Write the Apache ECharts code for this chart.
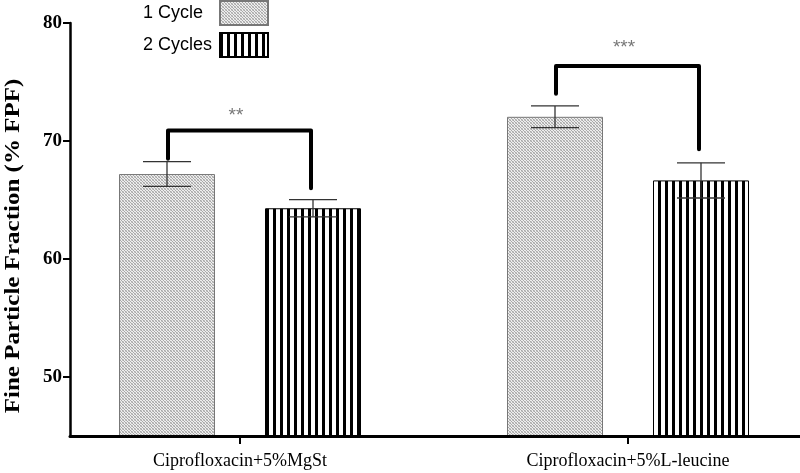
<!DOCTYPE html>
<html>
<head>
<meta charset="utf-8">
<script src="https://cdn.jsdelivr.net/npm/echarts@6/dist/echarts.min.js"></script>
<style>
  html, body { margin: 0; padding: 0; background: #fff; }
  #chart { width: 800px; height: 473px; }
</style>
</head>
<body>
<div id="chart"></div>
<script>
// ---- data ----
const categories = ['Ciprofloxacin+5%MgSt', 'Ciprofloxacin+5%L-leucine'];
const seriesNames = ['1 Cycle', '2 Cycles'];
const oneCycleMean = [67.2, 72.05];
const oneCycleSd = [1.05, 0.92];
const twoCyclesMean = [64.3, 66.66];
const twoCyclesSd = [0.73, 1.49];
const yMin = 45;
const yMax = 80;
const yTicks = [50, 60, 70, 80];
const yAxisTitle = 'Fine Particle Fraction (% FPF)';
const sigLabels = ['**', '***'];
const bracketLeftEnd = [68.5, 74.0];
const bracketTop = [70.9, 76.35];
const bracketRightEnd = [66.0, 69.3];
const sigLabelY = [72.1, 77.9];

// ---- styles ----
const BAR_W = 96;
const BAR_GAP = 50;
const HALF_OFFSET = (BAR_W + BAR_GAP) / 2;

function dotPattern() {
  const c = document.createElement('canvas');
  c.width = 3; c.height = 3;
  const ctx = c.getContext('2d');
  ctx.fillStyle = '#eeeeee'; ctx.fillRect(0, 0, 3, 3);
  ctx.fillStyle = '#a8a8a8';
  ctx.fillRect(0, 0, 1, 1); ctx.fillRect(1, 1, 1, 1); ctx.fillRect(2, 2, 1, 1);
  ctx.fillStyle = '#c8c8c8';
  ctx.fillRect(2, 0, 1, 1); ctx.fillRect(0, 2, 1, 1);
  return c;
}
function stripePattern() {
  const c = document.createElement('canvas');
  c.width = 7; c.height = 4;
  const ctx = c.getContext('2d');
  ctx.fillStyle = '#ffffff'; ctx.fillRect(0, 0, 7, 4);
  ctx.fillStyle = '#000000'; ctx.fillRect(0, 0, 3, 4);
  return c;
}

const serifBold = { fontFamily: 'Liberation Serif', fontWeight: 'bold', color: '#000' };

function errorBarSeries(means, sds, dir) {
  return {
    type: 'custom',
    xAxisIndex: 0, yAxisIndex: 0,
    z: 4,
    data: categories.map((c, i) => [i, means[i], sds[i]]),
    renderItem: function (params, api) {
      const cat = api.value(0), m = api.value(1), s = api.value(2);
      const x = api.coord([cat, m])[0] + dir * HALF_OFFSET;
      const yHi = api.coord([cat, m + s])[1];
      const yLo = api.coord([cat, m - s])[1];
      const half = BAR_W / 4;
      const st = { stroke: '#333', lineWidth: 1.3 };
      return {
        type: 'group',
        children: [
          { type: 'line', shape: { x1: x, y1: yHi, x2: x, y2: yLo }, style: st },
          { type: 'line', shape: { x1: x - half, y1: yHi, x2: x + half, y2: yHi }, style: st },
          { type: 'line', shape: { x1: x - half, y1: yLo, x2: x + half, y2: yLo }, style: st }
        ]
      };
    }
  };
}

const chart = echarts.init(document.getElementById('chart'), null, { renderer: 'canvas' });

const option = {
  backgroundColor: '#fff',
  animation: false,
  legend: {
    data: seriesNames,
    orient: 'vertical',
    left: 143,
    top: 0,
    padding: 0,
    align: 'right',
    itemWidth: 48,
    itemHeight: 24,
    itemGap: 6,
    icon: 'rect',
    selectedMode: false,
    formatter: '{n|{name}}',
    textStyle: {
      fontFamily: 'Liberation Sans', fontSize: 18, color: '#000',
      rich: { n: { width: 72, align: 'left', fontFamily: 'Liberation Sans', fontSize: 18, color: '#000' } }
    }
  },
  grid: [
    { left: 46, right: -22, top: 23, bottom: 37, containLabel: false, outerBoundsMode: 'none' },
    { left: 70, right: 0, top: 23, bottom: 37, containLabel: false, outerBoundsMode: 'none' }
  ],
  xAxis: [
    {
      type: 'category', gridIndex: 0, data: categories,
      axisLine: { show: false },
      axisTick: { show: true, alignWithLabel: true, length: 8, lineStyle: { color: '#000', width: 2 } },
      axisLabel: { fontFamily: 'Liberation Serif', fontSize: 18, color: '#000', margin: 16 },
      splitLine: { show: false }
    },
    {
      type: 'value', gridIndex: 1, min: 0, max: 1, z: 10,
      axisLine: { show: true, lineStyle: { color: '#000', width: 3 } },
      axisTick: { show: false }, axisLabel: { show: false }, splitLine: { show: false }
    }
  ],
  yAxis: [
    { type: 'value', gridIndex: 0, min: yMin, max: yMax, show: false, splitLine: { show: false } },
    {
      type: 'value', gridIndex: 1, min: yMin, max: yMax, z: 10,
      axisLine: { show: true, lineStyle: { color: '#000', width: 2.5 } },
      axisTick: { show: true, customValues: yTicks, length: 7, lineStyle: { color: '#000', width: 2 } },
      axisLabel: Object.assign({ customValues: yTicks, fontSize: 19, margin: 8 }, serifBold),
      splitLine: { show: false }
    }
  ],
  graphic: [
    {
      type: 'text',
      x: 14, y: 246,
      rotation: Math.PI / 2,
      scaleX: 1.25,
      style: {
        text: yAxisTitle,
        fontFamily: 'Liberation Serif', fontWeight: 'bold', fontSize: 20,
        fill: '#000', align: 'center', verticalAlign: 'middle'
      }
    }
  ],
  series: [
    {
      name: seriesNames[0], type: 'bar', xAxisIndex: 0, yAxisIndex: 0,
      data: oneCycleMean, barWidth: BAR_W, barGap: (BAR_GAP / BAR_W * 100) + '%',
      itemStyle: { color: { image: dotPattern(), repeat: 'repeat' }, borderColor: '#777', borderWidth: 1 }
    },
    {
      name: seriesNames[1], type: 'bar', xAxisIndex: 0, yAxisIndex: 0,
      data: twoCyclesMean, barWidth: BAR_W,
      itemStyle: { color: { image: stripePattern(), repeat: 'repeat' }, borderColor: '#000', borderWidth: 1 }
    },
    errorBarSeries(oneCycleMean, oneCycleSd, -1),
    errorBarSeries(twoCyclesMean, twoCyclesSd, 1),
    {
      type: 'custom', xAxisIndex: 0, yAxisIndex: 0, z: 5,
      data: categories.map((c, i) => [i, bracketLeftEnd[i], bracketTop[i], bracketRightEnd[i], sigLabelY[i]]),
      renderItem: function (params, api) {
        const cat = api.value(0);
        const cx = api.coord([cat, yMin])[0];
        const xl = cx - HALF_OFFSET + 1, xr = cx + HALF_OFFSET - 2;
        const yl = api.coord([cat, api.value(1)])[1];
        const yt = api.coord([cat, api.value(2)])[1];
        const yr = api.coord([cat, api.value(3)])[1];
        const ys = api.coord([cat, api.value(4)])[1];
        return {
          type: 'group',
          children: [
            {
              type: 'polyline',
              shape: { points: [[xl, yl], [xl, yt], [xr, yt], [xr, yr]] },
              style: { stroke: '#000', lineWidth: 4, fill: null, lineCap: 'round', lineJoin: 'round' }
            },
            {
              type: 'text',
              x: cx - 4, y: ys,
              style: {
                text: sigLabels[params.dataIndex], fill: '#777',
                fontFamily: 'Liberation Sans', fontSize: 19,
                align: 'center', verticalAlign: 'middle'
              }
            }
          ]
        };
      }
    }
  ]
};

chart.setOption(option);
</script>
</body>
</html>
